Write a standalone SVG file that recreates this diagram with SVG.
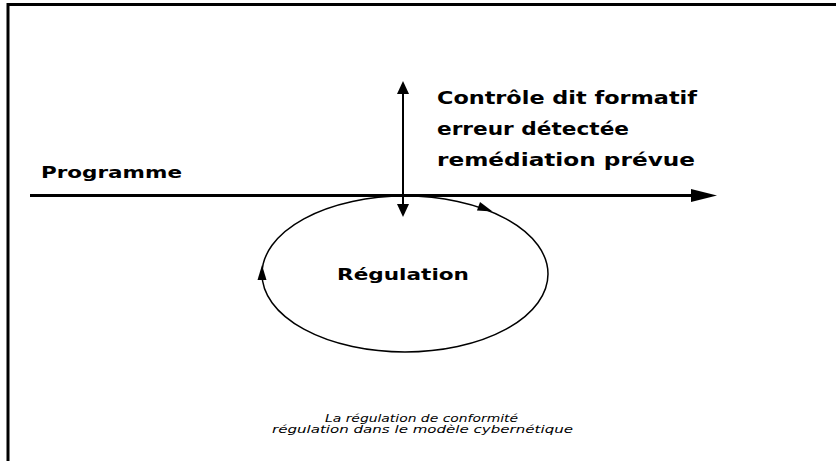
<svg xmlns="http://www.w3.org/2000/svg" width="836" height="461" viewBox="0 0 836 461">
  <style>
    .frame { fill: none; stroke: #000; stroke-width: 3; }
    .axis { stroke: #000; stroke-width: 3; fill: none; }
    .thin { stroke: #000; stroke-width: 2; fill: none; }
    .loop { stroke: #000; stroke-width: 1.5; fill: none; }
    .head { fill: #000; stroke: none; }
    .bold { font-family: "DejaVu Sans", "Liberation Sans", sans-serif; font-weight: bold; fill: #000; }
    .cap { font-family: "DejaVu Sans", "Liberation Sans", sans-serif; font-style: italic; font-size: 10.5px; fill: #000; }
  </style>
  <rect width="836" height="461" fill="#fff"/>

  <!-- page frame: top and left edges only -->
  <path class="frame" d="M8,461 V4.5 H836"/>

  <g id="connectors">
    <!-- programme axis -->
    <line class="axis" x1="30" y1="195.5" x2="693" y2="195.5"/>
    <path class="head" d="M717,195.5 L691,189 L691,202 Z"/>
    <!-- formative control, double-headed -->
    <line class="thin" x1="403" y1="92" x2="403" y2="206"/>
    <path class="head" d="M403,81 L397,94 L409,94 Z"/>
    <path class="head" d="M403,217 L397,204 L409,204 Z"/>
  </g>

  <g id="regulation">
    <ellipse class="loop" cx="405" cy="274" rx="143" ry="78"/>
    <!-- clockwise direction marks -->
    <path class="head" transform="translate(486,209) rotate(20)" d="M7,0 L-8,-4.5 L-8,4.5 Z"/>
    <path class="head" transform="translate(262,272) rotate(-90)" d="M7,0 L-8,-4.5 L-8,4.5 Z"/>
    <text class="bold" x="337" y="280" font-size="15" textLength="132" lengthAdjust="spacingAndGlyphs">Régulation</text>
  </g>

  <g id="programme">
    <text class="bold" x="41" y="178" font-size="15" textLength="141" lengthAdjust="spacingAndGlyphs">Programme</text>
  </g>

  <g id="controle">
    <text class="bold" x="437" y="104" font-size="17" textLength="260" lengthAdjust="spacingAndGlyphs">Contrôle dit formatif</text>
    <text class="bold" x="437" y="135" font-size="17" textLength="192" lengthAdjust="spacingAndGlyphs">erreur détectée</text>
    <text class="bold" x="437" y="166" font-size="17" textLength="258" lengthAdjust="spacingAndGlyphs">remédiation prévue</text>
  </g>

  <g id="legende">
    <text class="cap" x="325" y="422" textLength="193" lengthAdjust="spacingAndGlyphs">La régulation de conformité</text>
    <text class="cap" x="272" y="433" textLength="301" lengthAdjust="spacingAndGlyphs">régulation dans le modèle cybernétique</text>
  </g>
</svg>
